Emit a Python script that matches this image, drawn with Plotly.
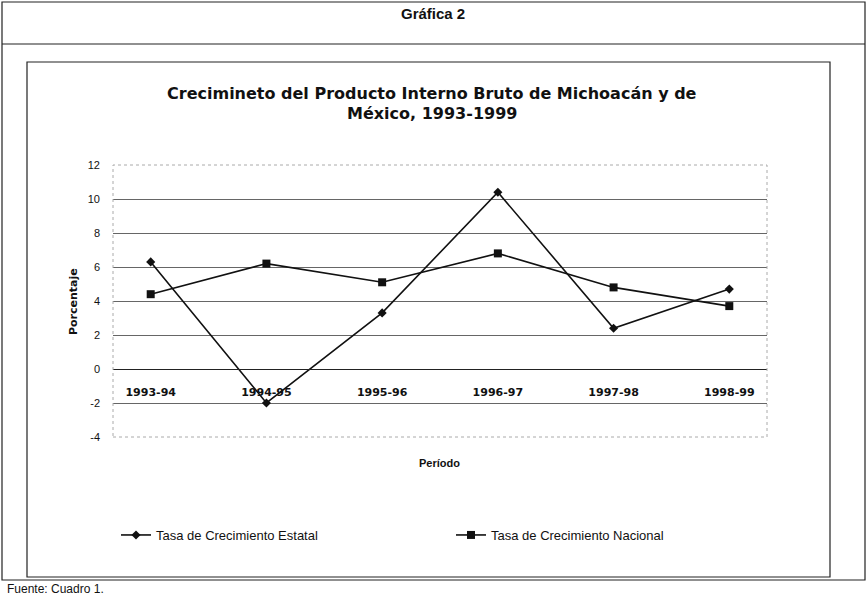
import plotly.graph_objects as go

periodos = ["1993-94", "1994-95", "1995-96", "1996-97", "1997-98", "1998-99"]
estatal = [6.3, -2.0, 3.3, 10.4, 2.4, 4.7]
nacional = [4.4, 6.2, 5.1, 6.8, 4.8, 3.7]
y_ticks = [-4, -2, 0, 2, 4, 6, 8, 10, 12]
y_tick_labels = ["-4", "-2", "0", "2", "4", "6", "8", "10", "12"]

W, H = 867, 600
def px(x):
    return x / W
def py(y):
    return 1 - y / H

FONT = "Liberation Sans, Arial, sans-serif"
WIDE = "DejaVu Sans, Liberation Sans, sans-serif"
NARROW = "Liberation Sans Narrow, Arial Narrow, Liberation Sans, sans-serif"

ydom = [py(437), py(165)]
xdom = [px(113), px(767)]
ymin, ymax = -4, 12
zero_pos = ydom[0] + (0 - ymin) / (ymax - ymin) * (ydom[1] - ydom[0])

fig = go.Figure()
fig.add_trace(go.Scatter(
    x=periodos, y=estatal, mode="lines+markers",
    name="Tasa de Crecimiento Estatal",
    line=dict(color="#111111", width=1.6),
    marker=dict(symbol="diamond", size=7, color="#111111"),
))
fig.add_trace(go.Scatter(
    x=periodos, y=nacional, mode="lines+markers",
    name="Tasa de Crecimiento Nacional",
    line=dict(color="#111111", width=1.6),
    marker=dict(symbol="square", size=8, color="#111111"),
))

fig.update_layout(
    width=W, height=H,
    margin=dict(l=0, r=0, t=0, b=0, autoexpand=False),
    paper_bgcolor="white", plot_bgcolor="white",
    font=dict(family=FONT, color="#111111"),
    showlegend=True,
    legend=dict(
        orientation="h", x=px(116), y=py(535), xanchor="left", yanchor="middle",
        font=dict(family=FONT, size=13, color="#111111"),
        entrywidth=290, entrywidthmode="pixels",
        bgcolor="rgba(0,0,0,0)",
    ),
    xaxis=dict(
        domain=xdom, type="category", anchor="free", position=zero_pos,
        showline=True, linecolor="#222222", linewidth=1,
        showgrid=False, zeroline=False, ticks="",
        tickfont=dict(family=WIDE, size=11, color="#111111", weight="bold"),
        ticklabelstandoff=13,
        automargin=False,
    ),
    yaxis=dict(
        domain=ydom, range=[ymin, ymax], tickvals=y_ticks, ticktext=y_tick_labels,
        showgrid=True, gridcolor="#666666", gridwidth=1,
        zeroline=False, showline=False, ticks="",
        tickfont=dict(family=FONT, size=11, color="#111111"),
        ticklabelstandoff=12,
        automargin=False,
    ),
)

shapes = [
    dict(type="rect", xref="paper", yref="paper", x0=px(2), x1=px(865), y0=py(580), y1=py(2),
         line=dict(color="#222222", width=1.2)),
    dict(type="line", xref="paper", yref="paper", x0=px(2), x1=px(865), y0=py(44), y1=py(44),
         line=dict(color="#222222", width=1.2)),
    dict(type="rect", xref="paper", yref="paper", x0=px(27), x1=px(830), y0=py(577), y1=py(62),
         line=dict(color="#222222", width=1.2)),
    dict(type="rect", xref="paper", yref="paper", x0=xdom[0], x1=xdom[1], y0=ydom[0], y1=ydom[1],
         line=dict(color="#aaaaaa", width=1, dash="dot")),
]
fig.update_layout(shapes=shapes)

annotations = [
    dict(text="<b>Gráfica 2</b>", x=px(433), y=py(14), xref="paper", yref="paper",
         showarrow=False, font=dict(family=NARROW, size=15, color="#111111"),
         xanchor="center", yanchor="middle"),
    dict(text="<b>Crecimineto del Producto Interno Bruto de Michoacán y de</b>",
         x=px(432), y=py(93), xref="paper", yref="paper", showarrow=False,
         font=dict(family=WIDE, size=16, color="#111111"), xanchor="center", yanchor="middle"),
    dict(text="<b>México, 1993-1999</b>",
         x=px(432), y=py(114), xref="paper", yref="paper", showarrow=False,
         font=dict(family=WIDE, size=16, color="#111111"), xanchor="center", yanchor="middle"),
    dict(text="<b>Porcentaje</b>", x=px(73), y=py(302), xref="paper", yref="paper",
         showarrow=False, textangle=-90,
         font=dict(family=WIDE, size=11, color="#111111"), xanchor="center", yanchor="middle"),
    dict(text="<b>Período</b>", x=px(440), y=py(463), xref="paper", yref="paper",
         showarrow=False, font=dict(family=FONT, size=11, color="#111111"),
         xanchor="center", yanchor="middle"),
    dict(text="Fuente: Cuadro 1.", x=px(5), y=py(589), xref="paper", yref="paper",
         showarrow=False, font=dict(family=NARROW, size=12, color="#111111"),
         xanchor="left", yanchor="middle"),
]
fig.update_layout(annotations=annotations)

fig.write_html(
    "out.html",
    config={"displayModeBar": False},
    post_script="document.body.style.margin='0';document.body.style.overflow='hidden';",
)
